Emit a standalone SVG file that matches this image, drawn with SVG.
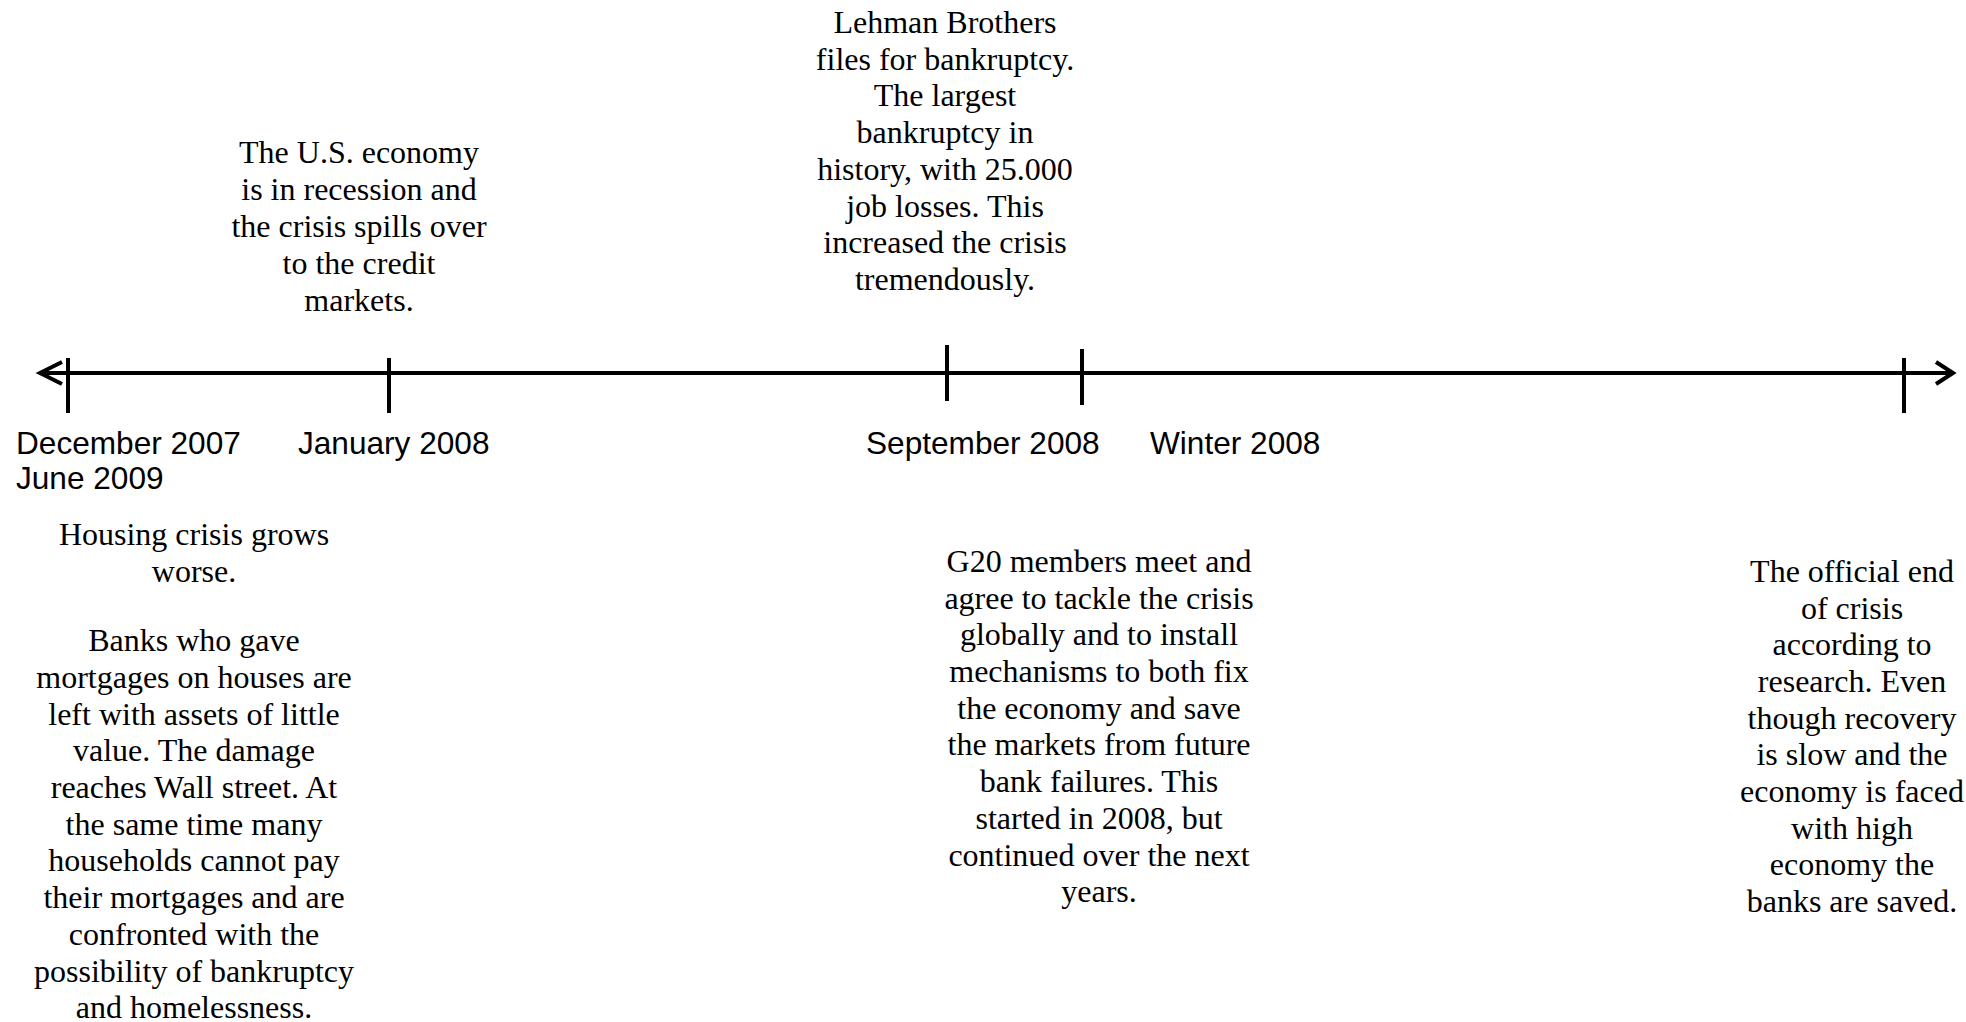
<svg xmlns="http://www.w3.org/2000/svg" width="1966" height="1022" viewBox="0 0 1966 1022">
<style>
.ln{stroke:#000;stroke-width:4;fill:none}
.date{font-family:"Liberation Sans",Arial,sans-serif;font-size:31.6px;fill:#000}
.desc{font-family:"Liberation Serif","Times New Roman",serif;font-size:32px;fill:#000;text-anchor:middle}
</style>
<rect width="1966" height="1022" fill="#fff"/>
<g id="connectors">
<line class="ln" x1="40" y1="373" x2="1953" y2="373"/>
<polyline class="ln" points="62,362 40,373 62,384"/>
<polyline class="ln" points="1936,362 1953,373 1936,384"/>
<line class="ln" x1="68" y1="358" x2="68" y2="413"/>
<line class="ln" x1="389" y1="358" x2="389" y2="413"/>
<line class="ln" x1="947" y1="345" x2="947" y2="401"/>
<line class="ln" x1="1082" y1="349" x2="1082" y2="405"/>
<line class="ln" x1="1904" y1="358" x2="1904" y2="413"/>
</g>
<g id="dates">
<text class="date" x="16" y="454">December 2007</text>
<text class="date" x="16" y="489">June 2009</text>
<text class="date" x="298" y="454">January 2008</text>
<text class="date" x="866" y="454">September 2008</text>
<text class="date" x="1150" y="454">Winter 2008</text>
</g>
<g id="node-jan2008">
<text class="desc" x="359"><tspan x="359" y="163">The U.S. economy</tspan><tspan x="359" y="200">is in recession and</tspan><tspan x="359" y="237">the crisis spills over</tspan><tspan x="359" y="274">to the credit</tspan><tspan x="359" y="311">markets.</tspan></text>
</g>
<g id="node-sep2008">
<text class="desc" x="945"><tspan x="945" y="33">Lehman Brothers</tspan><tspan x="945" y="70">files for bankruptcy.</tspan><tspan x="945" y="106">The largest</tspan><tspan x="945" y="143">bankruptcy in</tspan><tspan x="945" y="180">history, with 25.000</tspan><tspan x="945" y="217">job losses. This</tspan><tspan x="945" y="253">increased the crisis</tspan><tspan x="945" y="290">tremendously.</tspan></text>
</g>
<g id="node-dec2007">
<text class="desc" x="194"><tspan x="194" y="545">Housing crisis grows</tspan><tspan x="194" y="582">worse.</tspan><tspan x="194" y="651">Banks who gave</tspan><tspan x="194" y="688">mortgages on houses are</tspan><tspan x="194" y="725">left with assets of little</tspan><tspan x="194" y="761">value. The damage</tspan><tspan x="194" y="798">reaches Wall street. At</tspan><tspan x="194" y="835">the same time many</tspan><tspan x="194" y="871">households cannot pay</tspan><tspan x="194" y="908">their mortgages and are</tspan><tspan x="194" y="945">confronted with the</tspan><tspan x="194" y="982">possibility of bankruptcy</tspan><tspan x="194" y="1018">and homelessness.</tspan></text>
</g>
<g id="node-winter2008">
<text class="desc" x="1099"><tspan x="1099" y="572">G20 members meet and</tspan><tspan x="1099" y="609">agree to tackle the crisis</tspan><tspan x="1099" y="645">globally and to install</tspan><tspan x="1099" y="682">mechanisms to both fix</tspan><tspan x="1099" y="719">the economy and save</tspan><tspan x="1099" y="755">the markets from future</tspan><tspan x="1099" y="792">bank failures. This</tspan><tspan x="1099" y="829">started in 2008, but</tspan><tspan x="1099" y="866">continued over the next</tspan><tspan x="1099" y="902">years.</tspan></text>
</g>
<g id="node-jun2009">
<text class="desc" x="1852"><tspan x="1852" y="582">The official end</tspan><tspan x="1852" y="619">of crisis</tspan><tspan x="1852" y="655">according to</tspan><tspan x="1852" y="692">research. Even</tspan><tspan x="1852" y="729">though recovery</tspan><tspan x="1852" y="765">is slow and the</tspan><tspan x="1852" y="802">economy is faced</tspan><tspan x="1852" y="839">with high</tspan><tspan x="1852" y="875">economy the</tspan><tspan x="1852" y="912">banks are saved.</tspan></text>
</g>
</svg>
